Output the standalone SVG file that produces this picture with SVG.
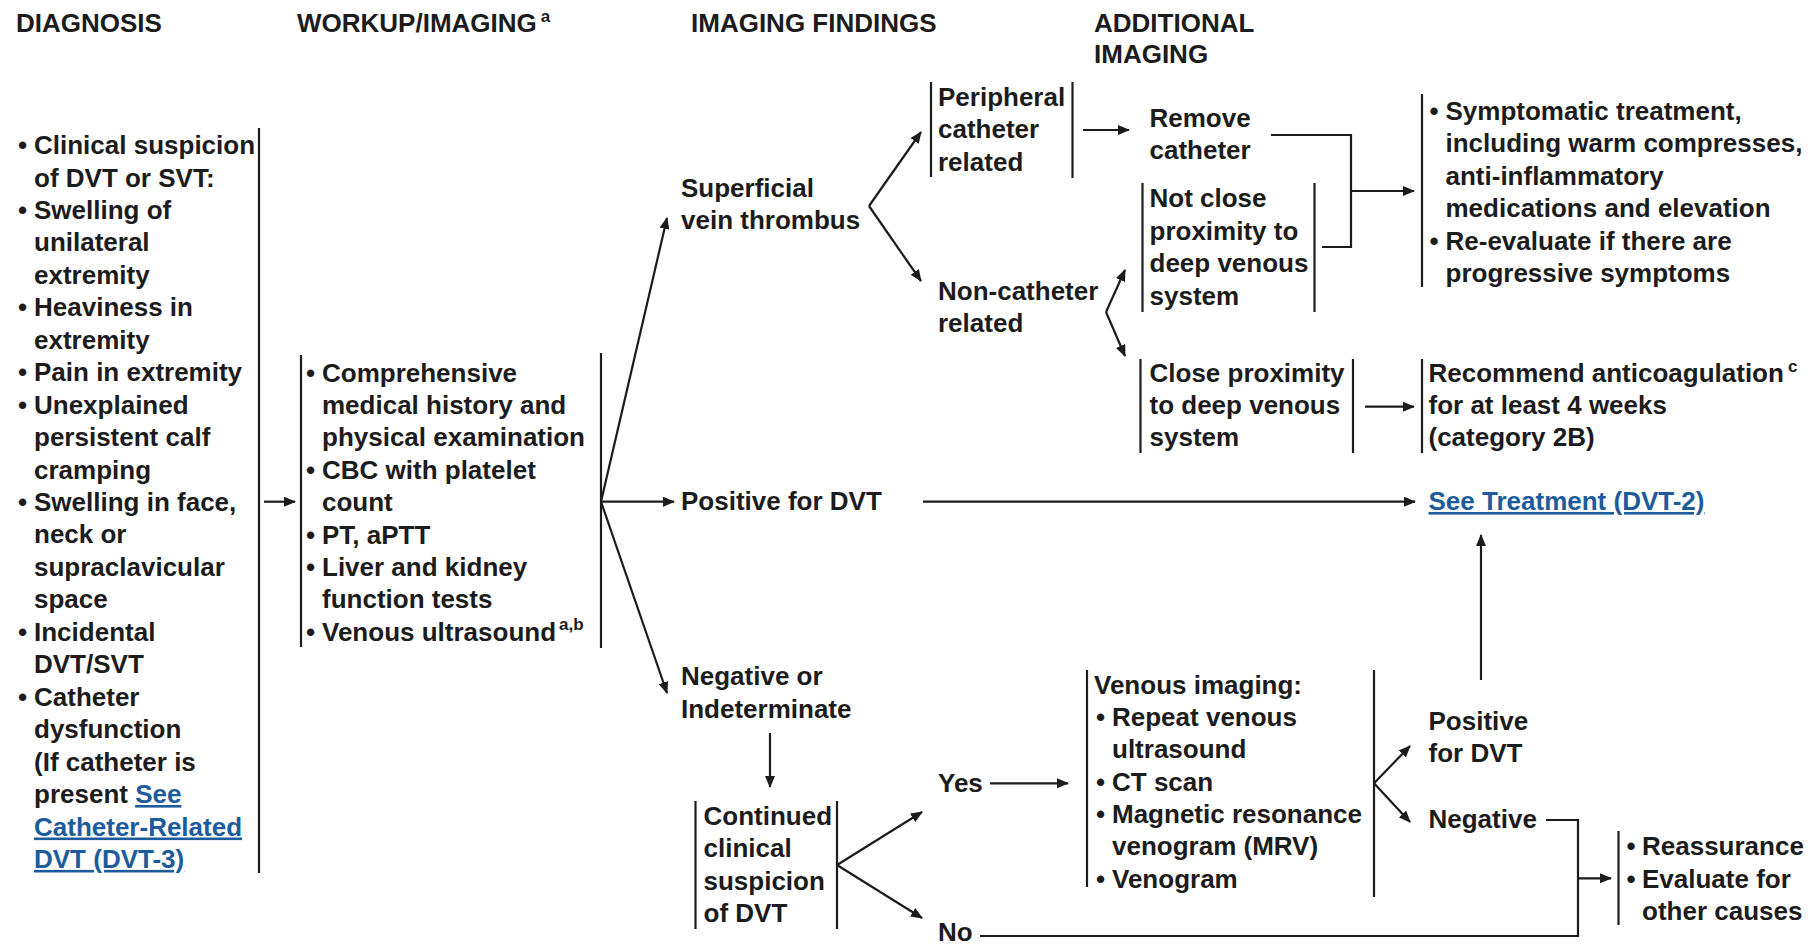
<svg xmlns="http://www.w3.org/2000/svg" width="1816" height="944" viewBox="0 0 1816 944">
<defs>
<style>
text{font-family:"Liberation Sans",Arial,sans-serif;font-weight:bold;font-size:26px;fill:#1c1c1c}
.sup{font-size:17px}
.b{text-anchor:middle}
.lnk{fill:#1d5c9c;text-decoration:underline}
.bar{stroke:#1c1c1c;stroke-width:2.2;fill:none}
.c{stroke:#1c1c1c;stroke-width:2.2;fill:none}
.a{marker-end:url(#ah)}
</style>
<marker id="ah" markerUnits="userSpaceOnUse" markerWidth="12" markerHeight="10" refX="11" refY="5" orient="auto">
<path d="M0,0 L12,5 L0,10 z" fill="#1c1c1c"/>
</marker>
</defs>
<rect width="1816" height="944" fill="#ffffff"/>

<g id="headers">
<text x="16" y="32">DIAGNOSIS</text>
<text x="297" y="32">WORKUP/IMAGING<tspan class="sup" dx="4" dy="-10">a</tspan></text>
<text x="691" y="32">IMAGING FINDINGS</text>
<text x="1094" y="32">ADDITIONAL</text>
<text x="1094" y="63">IMAGING</text>
</g>

<g id="diagnosis">
<line class="bar" x1="259" y1="128" x2="259" y2="873"/>
<text class="b"><tspan x="22.5" y="154">•</tspan><tspan x="22.5" y="218.9">•</tspan><tspan x="22.5" y="316.3">•</tspan><tspan x="22.5" y="381.2">•</tspan><tspan x="22.5" y="413.6">•</tspan><tspan x="22.5" y="511">•</tspan><tspan x="22.5" y="640.8">•</tspan><tspan x="22.5" y="705.7">•</tspan></text>
<text>
<tspan x="34" y="154">Clinical suspicion</tspan>
<tspan x="34" y="186.5">of DVT or SVT:</tspan>
<tspan x="34" y="218.9">Swelling of</tspan>
<tspan x="34" y="251.4">unilateral</tspan>
<tspan x="34" y="283.8">extremity</tspan>
<tspan x="34" y="316.3">Heaviness in</tspan>
<tspan x="34" y="348.7">extremity</tspan>
<tspan x="34" y="381.2">Pain in extremity</tspan>
<tspan x="34" y="413.6">Unexplained</tspan>
<tspan x="34" y="446.1">persistent calf</tspan>
<tspan x="34" y="478.5">cramping</tspan>
<tspan x="34" y="511">Swelling in face,</tspan>
<tspan x="34" y="543.4">neck or</tspan>
<tspan x="34" y="575.9">supraclavicular</tspan>
<tspan x="34" y="608.3">space</tspan>
<tspan x="34" y="640.8">Incidental</tspan>
<tspan x="34" y="673.2">DVT/SVT</tspan>
<tspan x="34" y="705.7">Catheter</tspan>
<tspan x="34" y="738.1">dysfunction</tspan>
<tspan x="34" y="770.6">(If catheter is</tspan>
<tspan x="34" y="803">present </tspan><tspan class="lnk">See</tspan>
<tspan x="34" y="835.5" class="lnk">Catheter-Related</tspan>
<tspan x="34" y="867.9" class="lnk">DVT (DVT-3)</tspan>
</text>
</g>

<g id="workup">
<line class="bar" x1="301" y1="355" x2="301" y2="647"/>
<line class="bar" x1="601" y1="353" x2="601" y2="648"/>
<text class="b"><tspan x="310.5" y="381.5">•</tspan><tspan x="310.5" y="478.7">•</tspan><tspan x="310.5" y="543.5">•</tspan><tspan x="310.5" y="575.9">•</tspan><tspan x="310.5" y="640.7">•</tspan></text>
<text>
<tspan x="322" y="381.5">Comprehensive</tspan>
<tspan x="322" y="413.9">medical history and</tspan>
<tspan x="322" y="446.3">physical examination</tspan>
<tspan x="322" y="478.7">CBC with platelet</tspan>
<tspan x="322" y="511.1">count</tspan>
<tspan x="322" y="543.5">PT, aPTT</tspan>
<tspan x="322" y="575.9">Liver and kidney</tspan>
<tspan x="322" y="608.3">function tests</tspan>
<tspan x="322" y="640.7">Venous ultrasound<tspan class="sup" dx="3" dy="-11">a,b</tspan></tspan>
</text>
</g>

<g id="superficial">
<text><tspan x="681" y="197">Superficial</tspan><tspan x="681" y="229">vein thrombus</tspan></text>
</g>

<g id="positive-dvt">
<text x="681" y="510">Positive for DVT</text>
</g>

<g id="negative-indeterminate">
<text><tspan x="681" y="685">Negative or</tspan><tspan x="681" y="717.5">Indeterminate</tspan></text>
</g>

<g id="peripheral">
<line class="bar" x1="931" y1="82" x2="931" y2="177"/>
<line class="bar" x1="1072.5" y1="82" x2="1072.5" y2="178"/>
<text><tspan x="938" y="106">Peripheral</tspan><tspan x="938" y="138.3">catheter</tspan><tspan x="938" y="170.5">related</tspan></text>
</g>

<g id="non-catheter">
<text><tspan x="938" y="300">Non-catheter</tspan><tspan x="938" y="332">related</tspan></text>
</g>

<g id="remove-catheter">
<text><tspan x="1149.5" y="127">Remove</tspan><tspan x="1149.5" y="159">catheter</tspan></text>
</g>

<g id="not-close">
<line class="bar" x1="1142.5" y1="183" x2="1142.5" y2="312"/>
<line class="bar" x1="1314.5" y1="183" x2="1314.5" y2="312"/>
<text><tspan x="1149.5" y="207">Not close</tspan><tspan x="1149.5" y="239.5">proximity to</tspan><tspan x="1149.5" y="272">deep venous</tspan><tspan x="1149.5" y="304.5">system</tspan></text>
</g>

<g id="close">
<line class="bar" x1="1140.5" y1="359" x2="1140.5" y2="453"/>
<line class="bar" x1="1353" y1="359" x2="1353" y2="453"/>
<text><tspan x="1149.5" y="382">Close proximity</tspan><tspan x="1149.5" y="414">to deep venous</tspan><tspan x="1149.5" y="446">system</tspan></text>
</g>

<g id="symptomatic">
<line class="bar" x1="1422" y1="94" x2="1422" y2="287"/>
<text class="b"><tspan x="1434" y="119.5">•</tspan><tspan x="1434" y="249.5">•</tspan></text>
<text>
<tspan x="1445.5" y="119.5">Symptomatic treatment,</tspan>
<tspan x="1445.5" y="152">including warm compresses,</tspan>
<tspan x="1445.5" y="184.5">anti-inflammatory</tspan>
<tspan x="1445.5" y="217">medications and elevation</tspan>
<tspan x="1445.5" y="249.5">Re-evaluate if there are</tspan>
<tspan x="1445.5" y="282">progressive symptoms</tspan>
</text>
</g>

<g id="recommend">
<line class="bar" x1="1422" y1="359" x2="1422" y2="453"/>
<text><tspan x="1428.5" y="382">Recommend anticoagulation<tspan class="sup" dx="4" dy="-10">c</tspan></tspan><tspan x="1428.5" y="414">for at least 4 weeks</tspan><tspan x="1428.5" y="446">(category 2B)</tspan></text>
</g>

<g id="see-treatment">
<text x="1428.5" y="510" class="lnk">See Treatment (DVT-2)</text>
</g>

<g id="continued">
<line class="bar" x1="695.5" y1="801" x2="695.5" y2="929"/>
<line class="bar" x1="837" y1="801" x2="837" y2="929"/>
<text><tspan x="703.5" y="825">Continued</tspan><tspan x="703.5" y="857">clinical</tspan><tspan x="703.5" y="889.5">suspicion</tspan><tspan x="703.5" y="921.5">of DVT</tspan></text>
</g>

<g id="yes"><text x="938" y="792">Yes</text></g>
<g id="no"><text x="938" y="941">No</text></g>

<g id="venous-imaging">
<line class="bar" x1="1087" y1="670" x2="1087" y2="887"/>
<line class="bar" x1="1374" y1="670" x2="1374" y2="897"/>
<text class="b"><tspan x="1100.5" y="725.5">•</tspan><tspan x="1100.5" y="790.5">•</tspan><tspan x="1100.5" y="822.5">•</tspan><tspan x="1100.5" y="887.5">•</tspan></text>
<text>
<tspan x="1094" y="693.5">Venous imaging:</tspan>
<tspan x="1112" y="725.5">Repeat venous</tspan>
<tspan x="1112" y="758">ultrasound</tspan>
<tspan x="1112" y="790.5">CT scan</tspan>
<tspan x="1112" y="822.5">Magnetic resonance</tspan>
<tspan x="1112" y="855">venogram (MRV)</tspan>
<tspan x="1112" y="887.5">Venogram</tspan>
</text>
</g>

<g id="positive-for-dvt-2">
<text><tspan x="1428.5" y="730">Positive</tspan><tspan x="1428.5" y="762">for DVT</tspan></text>
</g>

<g id="negative">
<text x="1428.5" y="827.5">Negative</text>
</g>

<g id="reassurance">
<line class="bar" x1="1618.5" y1="831" x2="1618.5" y2="925"/>
<text class="b"><tspan x="1631" y="855">•</tspan><tspan x="1631" y="887.5">•</tspan></text>
<text><tspan x="1642" y="855">Reassurance</tspan><tspan x="1642" y="887.5">Evaluate for</tspan><tspan x="1642" y="920">other causes</tspan></text>
</g>

<g id="connectors">
<line class="c a" x1="264" y1="501.7" x2="295" y2="501.7"/>
<line class="c a" x1="601" y1="501.7" x2="667" y2="218"/>
<line class="c a" x1="601" y1="501.7" x2="674" y2="501.7"/>
<line class="c a" x1="601" y1="501.7" x2="667" y2="693"/>
<line class="c a" x1="869" y1="206" x2="921" y2="132"/>
<line class="c a" x1="869" y1="206" x2="921" y2="281"/>
<line class="c a" x1="1083" y1="130" x2="1129" y2="130"/>
<line class="c a" x1="1106" y1="312" x2="1125" y2="270"/>
<line class="c a" x1="1106" y1="312" x2="1125" y2="356"/>
<polyline class="c" points="1271,135 1351,135 1351,247 1322,247"/>
<line class="c a" x1="1351" y1="191" x2="1414" y2="191"/>
<line class="c a" x1="1365" y1="406.7" x2="1414" y2="406.7"/>
<line class="c a" x1="923" y1="501.7" x2="1415" y2="501.7"/>
<line class="c a" x1="770" y1="733" x2="770" y2="787"/>
<line class="c a" x1="837" y1="865" x2="922" y2="812"/>
<line class="c a" x1="837" y1="865" x2="922" y2="918"/>
<line class="c a" x1="990" y1="783.3" x2="1068" y2="783.3"/>
<line class="c a" x1="1374" y1="783.3" x2="1410" y2="746"/>
<line class="c a" x1="1374" y1="783.3" x2="1410" y2="822"/>
<line class="c a" x1="1481" y1="680" x2="1481" y2="535"/>
<polyline class="c" points="1546,820 1578,820 1578,936 980,936"/>
<line class="c a" x1="1578" y1="878.3" x2="1611" y2="878.3"/>
</g>
</svg>
